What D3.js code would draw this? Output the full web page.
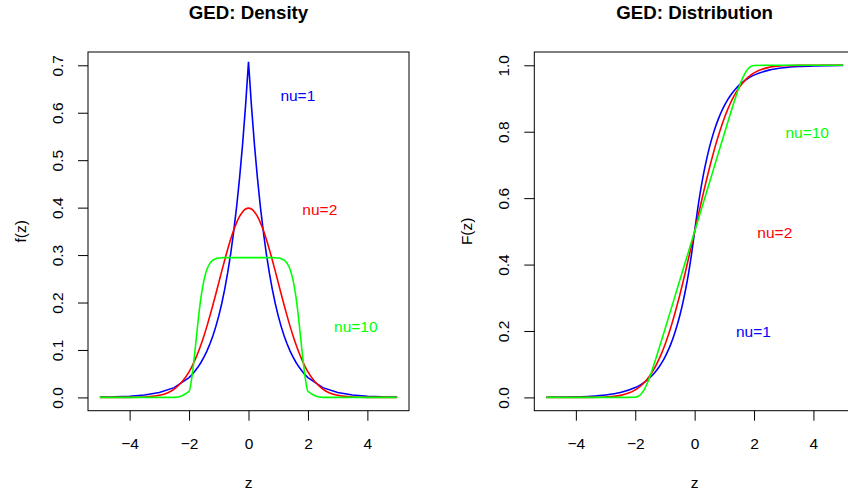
<!DOCTYPE html>
<html>
<head>
<meta charset="utf-8">
<script src="https://cdn.jsdelivr.net/npm/d3@7"></script>
<style>
    body { margin: 0; background: #fff; }
    text { font-family: "Liberation Sans", Arial, sans-serif; fill: #000; }
</style>
</head>
<body>
<div id="chart"></div>
<script>
/*
 *  Values (GED, nu = 1, 2, 10)
 */
const zValues = [-5, -4.5, -4, -3.5, -3, -2.5,
    -2, -1.9, -1.8, -1.7, -1.6, -1.5, -1.4, -1.3, -1.2, -1.1,
    -1, -0.9, -0.8, -0.7, -0.6, -0.5, -0.4, -0.3, -0.2, -0.1,
    0,
    0.1, 0.2, 0.3, 0.4, 0.5, 0.6, 0.7, 0.8, 0.9, 1,
    1.1, 1.2, 1.3, 1.4, 1.5, 1.6, 1.7, 1.8, 1.9, 2,
    2.5, 3, 3.5, 4, 4.5, 5];

const densityNu1 = [0.0006, 0.0012, 0.0025, 0.0050, 0.0102, 0.0206,
    0.0418, 0.0481, 0.0555, 0.0639, 0.0736, 0.0848, 0.0976, 0.1125, 0.1296, 0.1492,
    0.1719, 0.1980, 0.2281, 0.2628, 0.3027, 0.3487, 0.4016, 0.4626, 0.5329, 0.6139,
    0.7071,
    0.6139, 0.5329, 0.4626, 0.4016, 0.3487, 0.3027, 0.2628, 0.2281, 0.1980, 0.1719,
    0.1492, 0.1296, 0.1125, 0.0976, 0.0848, 0.0736, 0.0639, 0.0555, 0.0481, 0.0418,
    0.0206, 0.0102, 0.0050, 0.0025, 0.0012, 0.0006];

const densityNu2 = [0.0000, 0.0000, 0.0001, 0.0009, 0.0044, 0.0175,
    0.0540, 0.0656, 0.0790, 0.0940, 0.1109, 0.1295, 0.1497, 0.1714, 0.1942, 0.2179,
    0.2420, 0.2661, 0.2897, 0.3123, 0.3332, 0.3521, 0.3683, 0.3814, 0.3910, 0.3970,
    0.3989,
    0.3970, 0.3910, 0.3814, 0.3683, 0.3521, 0.3332, 0.3123, 0.2897, 0.2661, 0.2420,
    0.2179, 0.1942, 0.1714, 0.1497, 0.1295, 0.1109, 0.0940, 0.0790, 0.0656, 0.0540,
    0.0175, 0.0044, 0.0009, 0.0001, 0.0000, 0.0000];

const densityNu10 = [0, 0, 0, 0, 0, 0,
    0.0127, 0.0447, 0.0983, 0.1585, 0.2101, 0.2468, 0.2696, 0.2825, 0.2891, 0.2924,
    0.2938, 0.2944, 0.2946, 0.2947, 0.2947, 0.2947, 0.2947, 0.2947, 0.2947, 0.2947,
    0.2947,
    0.2947, 0.2947, 0.2947, 0.2947, 0.2947, 0.2947, 0.2947, 0.2946, 0.2944, 0.2938,
    0.2924, 0.2891, 0.2825, 0.2696, 0.2468, 0.2101, 0.1585, 0.0983, 0.0447, 0.0127,
    0, 0, 0, 0, 0, 0];

const cdfNu1 = [0.0004, 0.0009, 0.0017, 0.0035, 0.0072, 0.0146,
    0.0296, 0.0340, 0.0392, 0.0452, 0.0520, 0.0599, 0.0690, 0.0795, 0.0916, 0.1055,
    0.1216, 0.1400, 0.1613, 0.1858, 0.2140, 0.2465, 0.2840, 0.3271, 0.3768, 0.4341,
    0.5,
    0.5659, 0.6232, 0.6729, 0.7160, 0.7535, 0.7860, 0.8142, 0.8387, 0.8600, 0.8784,
    0.8945, 0.9084, 0.9205, 0.9310, 0.9401, 0.9480, 0.9548, 0.9608, 0.9660, 0.9704,
    0.9854, 0.9928, 0.9965, 0.9983, 0.9991, 0.9996];

const cdfNu2 = [0.0000, 0.0000, 0.0000, 0.0002, 0.0013, 0.0062,
    0.0228, 0.0287, 0.0359, 0.0446, 0.0548, 0.0668, 0.0808, 0.0968, 0.1151, 0.1357,
    0.1587, 0.1841, 0.2119, 0.2420, 0.2743, 0.3085, 0.3446, 0.3821, 0.4207, 0.4602,
    0.5,
    0.5398, 0.5793, 0.6179, 0.6554, 0.6915, 0.7257, 0.7580, 0.7881, 0.8159, 0.8413,
    0.8643, 0.8849, 0.9032, 0.9192, 0.9332, 0.9452, 0.9554, 0.9641, 0.9713, 0.9772,
    0.9938, 0.9987, 0.9998, 1.0000, 1.0000, 1.0000];

const cdfNu10 = [0, 0, 0, 0, 0, 0,
    0.0007, 0.0034, 0.0104, 0.0233, 0.0418, 0.0648, 0.0907, 0.1184, 0.1470, 0.1761,
    0.2054, 0.2348, 0.2642, 0.2937, 0.3232, 0.3526, 0.3821, 0.4116, 0.4411, 0.4705,
    0.5,
    0.5295, 0.5589, 0.5884, 0.6179, 0.6474, 0.6768, 0.7063, 0.7358, 0.7652, 0.7946,
    0.8239, 0.8530, 0.8816, 0.9093, 0.9352, 0.9582, 0.9767, 0.9896, 0.9966, 0.9993,
    1, 1, 1, 1, 1, 1];

const seriesNames = ['nu=1', 'nu=2', 'nu=10'];
const xTicks = [-4, -2, 0, 2, 4];
const densityTicks = [0, 0.1, 0.2, 0.3, 0.4, 0.5, 0.6, 0.7];
const cdfTicks = [0, 0.2, 0.4, 0.6, 0.8, 1.0];

/*
 *  Draw both panels
 */
const width = 848;
const height = 496;
const colors = ['#0000ff', '#ff0000', '#00ff00'];

const svg = d3.select('#chart').append('svg')
    .attr('width', width)
    .attr('height', height);

svg.append('rect')
    .attr('width', width)
    .attr('height', height)
    .attr('fill', '#fff');

drawPanel({
    id: 'dens',
    title: 'GED: Density',
    ylab: 'f(z)',
    box: { left: 88, right: 409, top: 52, bottom: 410.7 },
    yDomain: [-0.028, 0.728],
    yTicks: densityTicks,
    series: [densityNu1, densityNu2, densityNu10],
    curves: [d3.curveLinear, d3.curveMonotoneX, d3.curveMonotoneX],
    // label anchor points in data units (like R's text(x, y))
    labelAt: [[1.66, 0.637], [2.40, 0.397], [3.61, 0.149]]
});

drawPanel({
    id: 'cdf',
    title: 'GED: Distribution',
    ylab: 'F(z)',
    box: { left: 534.3, right: 855, top: 52, bottom: 410.7 },
    yDomain: [-0.04, 1.04],
    yTicks: cdfTicks,
    series: [cdfNu1, cdfNu2, cdfNu10],
    curves: [d3.curveMonotoneX, d3.curveMonotoneX, d3.curveMonotoneX],
    labelAt: [[1.98, 0.199], [2.70, 0.496], [3.79, 0.797]]
});

function drawPanel(p) {
    const b = p.box;

    const xScale = d3.scaleLinear()
        .domain([-5.4, 5.4])
        .range([b.left, b.right]);

    const yScale = d3.scaleLinear()
        .domain(p.yDomain)
        .range([b.bottom, b.top]);

    svg.append('clipPath')
        .attr('id', 'clip-' + p.id)
        .append('rect')
        .attr('x', b.left)
        .attr('y', b.top)
        .attr('width', b.right - b.left)
        .attr('height', b.bottom - b.top);

    // Curves
    const plot = svg.append('g').attr('clip-path', 'url(#clip-' + p.id + ')');
    p.series.forEach((vals, i) => {
        const pts = zValues.map((z, k) => ({ z: z, v: vals[k] }));
        const line = d3.line()
            .x(d => xScale(d.z))
            .y(d => yScale(d.v))
            .curve(p.curves[i]);
        plot.append('path')
            .datum(pts)
            .attr('fill', 'none')
            .attr('stroke', colors[i])
            .attr('stroke-width', 1.6)
            .attr('d', line);
    });

    // Series labels
    svg.selectAll('.lab-' + p.id)
        .data(seriesNames)
        .enter()
        .append('text')
        .attr('class', 'lab-' + p.id)
        .attr('x', (d, i) => xScale(p.labelAt[i][0]))
        .attr('y', (d, i) => yScale(p.labelAt[i][1]))
        .attr('text-anchor', 'middle')
        .attr('dominant-baseline', 'central')
        .style('fill', (d, i) => colors[i])
        .style('font-size', '15.5px')
        .text(d => d);

    // Box
    svg.append('rect')
        .attr('x', b.left)
        .attr('y', b.top)
        .attr('width', b.right - b.left)
        .attr('height', b.bottom - b.top)
        .attr('fill', 'none')
        .attr('stroke', '#000')
        .attr('stroke-width', 1);

    // x axis
    const xAxis = d3.axisBottom(xScale)
        .tickValues(xTicks)
        .tickSize(10)
        .tickPadding(17);
    const gx = svg.append('g')
        .attr('transform', `translate(0,${b.bottom})`)
        .call(xAxis);
    gx.select('.domain').remove();
    gx.selectAll('text')
        .style('font-size', '15.5px')
        .style('font-family', '"Liberation Sans", Arial, sans-serif')
        .attr('fill', '#000');
    gx.selectAll('line').attr('stroke', '#000');

    // y axis, labels turned like R's las=0
    const yAxis = d3.axisLeft(yScale)
        .tickValues(p.yTicks)
        .tickFormat(d3.format('.1f'))
        .tickSize(10);
    const gy = svg.append('g')
        .attr('transform', `translate(${b.left},0)`)
        .call(yAxis);
    gy.select('.domain').remove();
    gy.selectAll('line').attr('stroke', '#000');
    gy.selectAll('text')
        .attr('x', null)
        .attr('dy', null)
        .attr('transform', 'translate(-30.5,0) rotate(-90)')
        .attr('text-anchor', 'middle')
        .attr('dominant-baseline', 'central')
        .style('font-size', '15.5px')
        .style('font-family', '"Liberation Sans", Arial, sans-serif')
        .attr('fill', '#000');

    // Titles
    const cx = (b.left + b.right) / 2;
    svg.append('text')
        .attr('x', cx)
        .attr('y', 12)
        .attr('text-anchor', 'middle')
        .attr('dominant-baseline', 'central')
        .style('font-size', '18.7px')
        .style('font-weight', 'bold')
        .text(p.title);

    svg.append('text')
        .attr('x', cx)
        .attr('y', 482.7)
        .attr('text-anchor', 'middle')
        .attr('dominant-baseline', 'central')
        .style('font-size', '15.5px')
        .text('z');

    svg.append('text')
        .attr('transform', `translate(${b.left - 68},${(b.top + b.bottom) / 2}) rotate(-90)`)
        .attr('text-anchor', 'middle')
        .attr('dominant-baseline', 'central')
        .style('font-size', '15.5px')
        .text(p.ylab);
}
</script>
</body>
</html>
